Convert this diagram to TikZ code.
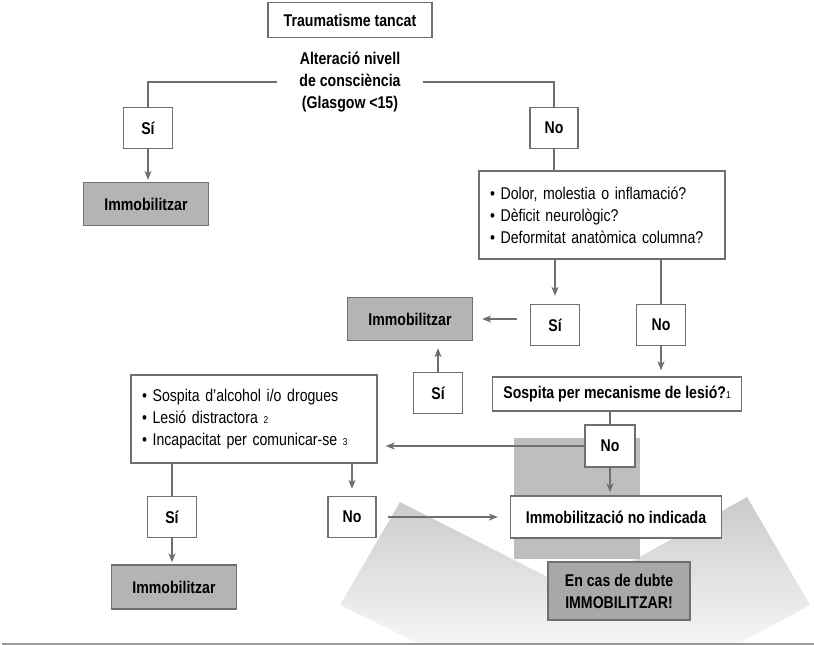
\documentclass[tikz,border=0pt]{standalone}
\usepackage{fontspec}
\setmainfont{Liberation Sans}[FakeStretch=0.83]
\usetikzlibrary{arrows.meta}

\definecolor{vora}{HTML}{6F6F6F}
\definecolor{grisimm}{HTML}{B4B4B4}
\definecolor{grisdubte}{HTML}{A8A8A8}
\definecolor{fonsfosc}{HTML}{BEBEBE}
\definecolor{fonsclar}{HTML}{CACACA}
\definecolor{fonsblanc}{HTML}{F6F6F6}

\newcommand{\petit}[1]{{\mdseries\fontsize{10}{10}\selectfont #1}}

\begin{document}
\begin{tikzpicture}[x=1pt, y=-1pt,
    quadre/.style={rectangle, draw=vora, line width=1.3pt, fill=white, inner sep=0pt,
                   font=\bfseries\fontsize{17}{22}\selectfont},
    sino/.style={quadre, minimum width=49pt, minimum height=41pt},
    gris/.style={quadre, fill=grisimm, minimum width=125pt, minimum height=43pt},
    llista/.style={rectangle, draw=vora, line width=1.3pt, fill=white, inner ysep=0pt,
                   inner xsep=11pt, text width=224pt, minimum height=88pt, align=left,
                   font=\fontsize{17}{22}\selectfont},
    fletxa/.style={draw=vora, line width=1.3pt, -{Stealth[length=9pt,width=7pt,inset=2.5pt]}},
    linia/.style={draw=vora, line width=1.3pt}]

    \useasboundingbox (0,0) rectangle (814,645);

    % fons
    \shade[top color=fonsclar, bottom color=fonsblanc]
        (400,502) -- (577,592) -- (747,497) -- (810,605) -- (738,644)
        -- (420,644) -- (340,605) -- cycle;
    \fill[fonsfosc] (514,438) rectangle (640,559);
    \draw[color=vora!70, line width=1.5pt] (2,644) -- (814,644);

    % caixes
    \node[quadre, minimum width=164pt, minimum height=35pt] (trauma) at (350,20) {Traumatisme tancat};
    \node[align=center, inner xsep=22pt, inner ysep=0pt, font=\bfseries\fontsize{17}{22}\selectfont]
        (alt) at (350,82) {Alteració nivell\\de consciència\\(Glasgow <15)};

    \node[sino] (si1) at (148,128) {Sí};
    \node[sino, minimum width=48pt] (no1) at (554,128) {No};
    \node[gris] (imm1) at (146,204) {Immobilitzar};

    \node[llista] (llista1) at (602,215)
        {\textbullet\ Dolor, molestia o inflamació?\\
         \textbullet\ Dèficit neurològic?\\
         \textbullet\ Deformitat anatòmica columna?};

    \node[sino] (si2) at (555,325) {Sí};
    \node[sino] (no2) at (661,325) {No};
    \node[gris] (imm2) at (410,319) {Immobilitzar};
    \node[sino] (si3) at (438,393) {Sí};

    \node[quadre, minimum width=249pt, minimum height=34pt] (susp) at (617,394)
        {Sospita per mecanisme de lesió?\petit{1}};
    \node[sino, minimum width=50pt, minimum height=42pt] (no3) at (610,446) {No};

    \node[llista] (llista2) at (254,419)
        {\textbullet\ Sospita d’alcohol i/o drogues\\
         \textbullet\ Lesió distractora \petit{2}\\
         \textbullet\ Incapacitat per comunicar-se \petit{3}};

    \node[sino] (si4) at (172,517) {Sí};
    \node[sino, minimum width=48pt] (no4) at (352,517) {No};
    \node[quadre, minimum width=211pt, minimum height=42pt] (noind) at (616,517) {Immobilització no indicada};
    \node[gris, minimum height=44pt] (imm3) at (174,587) {Immobilitzar};
    \node[quadre, fill=grisdubte, align=center, minimum width=142pt, minimum height=58pt]
        (dubte) at (619,591) {En cas de dubte\\IMMOBILITZAR!};

    % connexions
    \draw[linia] (alt.west) -| (si1);
    \draw[linia] (alt.east) -| (no1);
    \draw[fletxa, shorten >=2pt] (si1) -- (si1 |- imm1.north);
    \draw[linia] (no1) -- (no1 |- llista1.north);
    \draw[fletxa, shorten >=8pt] (llista1.south -| si2) -- (si2);
    \draw[linia] (llista1.south -| no2) -- (no2);
    \draw[fletxa, shorten <=13pt, shorten >=9pt] (si2.west |- imm2) -- (imm2);
    \draw[fletxa, shorten >=7pt] (si3) -- (si3 |- imm2.south);
    \draw[fletxa, shorten >=6pt] (no2) -- (no2 |- susp.north);
    \draw[linia] (no3 |- susp.south) -- (no3);
    \draw[fletxa, shorten >=8pt] (no3.west) -- (llista2.east |- no3);
    \draw[fletxa, shorten >=3pt] (no3) -- (no3 |- noind.north);
    \draw[linia] (llista2.south -| si4) -- (si4);
    \draw[fletxa, shorten >=7pt] (llista2.south -| no4) -- (no4);
    \draw[fletxa, shorten <=11pt, shorten >=12pt] (no4) -- (noind.west |- no4);
    \draw[fletxa, shorten >=2pt] (si4) -- (si4 |- imm3.north);
\end{tikzpicture}
\end{document}
